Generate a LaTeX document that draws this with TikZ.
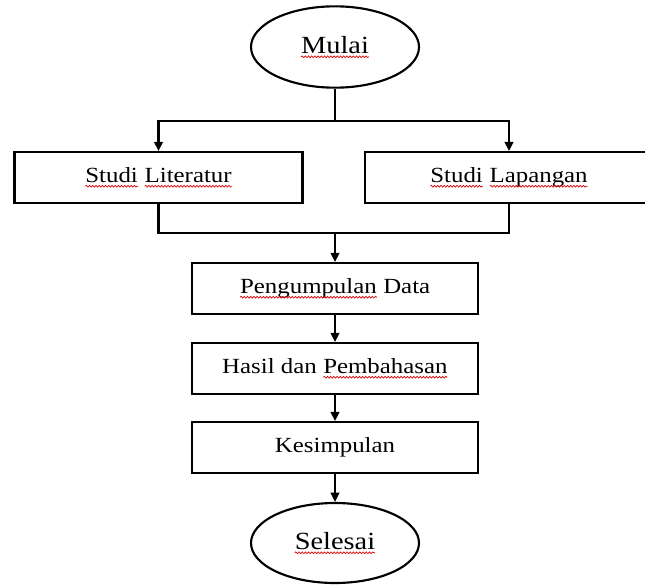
\documentclass[tikz,border=0pt]{standalone}
\usepackage{fontspec}
\setmainfont{Liberation Serif}[FakeStretch=1.15]
\usetikzlibrary{shapes.geometric,arrows.meta,decorations.pathmorphing}

% red spell-check wave under a word
\newcommand\sq[1]{\tikz[baseline=(sqw.base)]{%
  \node[shape=rectangle,draw=none,inner sep=0pt,outer sep=0pt,minimum width=0pt,minimum height=0pt] (sqw) {#1};
  \draw[red!85!black,line width=0.5pt,decorate,decoration={snake,amplitude=0.7pt,segment length=2.4pt}]
    ([yshift=-2.8pt]sqw.base west) -- ([yshift=-2.8pt]sqw.base east);}}

\begin{document}
\begin{tikzpicture}[x=0.75pt,y=-0.75pt,
  stepbox/.style={draw,line width=1.6pt,rectangle,minimum width=216pt,minimum height=38pt,inner sep=0pt,font=\fontsize{16.2}{19}\selectfont},
  endpoint/.style={draw,line width=1.6pt,ellipse,minimum width=126pt,minimum height=61pt,inner sep=0pt,font=\fontsize{18.5}{22}\selectfont},
  arr/.style={line width=1.6pt,-{Triangle[length=7pt,width=6.5pt]}},
  link/.style={line width=1.6pt}]
  \useasboundingbox (0,0) rectangle (645,585);
  \clip (0,0) rectangle (645,585);
  \node[endpoint] (mulai) at (335,47) {\sq{Mulai}};
  \node[stepbox] (lit) at (158.5,177.5) {\sq{Studi} \sq{Literatur}};
  \node[stepbox] (lap) at (509,177.5) {\sq{Studi} \sq{Lapangan}};
  \node[stepbox,minimum width=215pt] (data) at (335,288.5) {\sq{Pengumpulan} Data};
  \node[stepbox,minimum width=215pt] (hasil) at (335,368.5) {Hasil dan \sq{Pembahasan}};
  \node[stepbox,minimum width=215pt] (kes) at (335,447.5) {Kesimpulan};
  \node[endpoint,minimum height=60pt] (selesai) at (335,543) {\sq{Selesai}};
  \coordinate (split) at (335,121);
  \coordinate (join) at (335,233);
  \draw[link] (mulai) -- (split);
  \draw[arr] (split) -| (lit);
  \draw[arr] (split) -| (lap);
  \draw[link] (lit) |- (join);
  \draw[link] (lap) |- (join);
  \draw[arr] (join) -- (data);
  \draw[arr] (data) -- (hasil);
  \draw[arr] (hasil) -- (kes);
  \draw[arr] (kes) -- (selesai);
\end{tikzpicture}
\end{document}
